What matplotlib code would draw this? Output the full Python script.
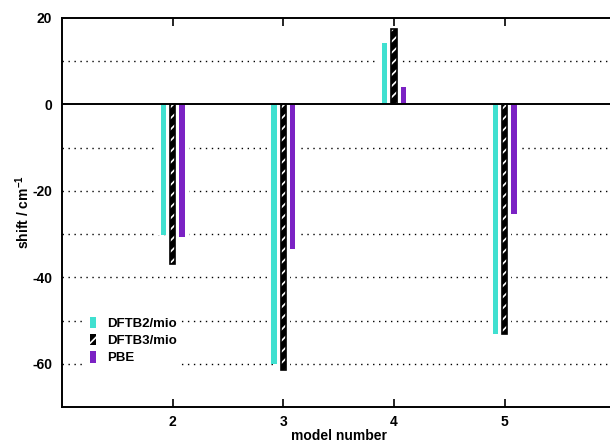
import matplotlib
matplotlib.use("Agg")
import matplotlib.pyplot as plt
from matplotlib.patches import Patch
import numpy as np

plt.rcParams['font.family'] = ['Liberation Sans', 'DejaVu Sans']
plt.rcParams['font.weight'] = 'bold'
plt.rcParams['mathtext.fontset'] = 'custom'
plt.rcParams['mathtext.rm'] = 'Liberation Sans:bold'
plt.rcParams['mathtext.bf'] = 'Liberation Sans:bold'
plt.rcParams['mathtext.default'] = 'rm'
plt.rcParams['hatch.linewidth'] = 1.2

models = [2, 3, 4, 5]
series_names = ["DFTB2/mio", "DFTB3/mio", "PBE"]
dftb2 = [-30.1, -60.1, 14.3, -53.2]
dftb3 = [-37.0, -61.5, 17.5, -53.0]
pbe = [-30.7, -33.5, 4.1, -25.3]
yticks = [20, 0, -20, -40, -60]

cyan = "#40e0d0"
purple = "#7b22c4"

fig = plt.figure(figsize=(6.10, 4.41), dpi=100)
ax = fig.add_axes([62/610, 34/441, 553.5/610, 389/441])
ax.set_xlim(1, 6)
ax.set_ylim(-70, 20)

x = np.array(models, dtype=float)
off = 0.084
w = 0.048
pad = 0.07

# grid
for yv in [10, -10, -20, -30, -40, -50, -60]:
    ax.axhline(yv, color='black', lw=1.0, linestyle=(0, (1, 3.3)), zorder=1)
ax.axhline(0, color='black', lw=1.4, zorder=4)

# white underlays to interrupt grid
for vals, dx in [(dftb2, -off), (dftb3, 0), (pbe, off)]:
    ax.bar(x + dx, vals, width=w + pad, color='white', lw=0, zorder=2)

ax.bar(x - off, dftb2, width=w, color=cyan, lw=0, zorder=3)
ax.bar(x, dftb3, width=w, facecolor='black', edgecolor='white', hatch='///', lw=0, zorder=3)
ax.bar(x, dftb3, width=w, fill=False, edgecolor='black', lw=1.2, zorder=3.5)
ax.bar(x + off, pbe, width=w, color=purple, lw=0, zorder=3)

for s in ax.spines.values():
    s.set_linewidth(1.4)

ax.set_xticks(models)
ax.set_xticklabels([str(m) for m in models], fontsize=10, fontweight='bold')
ax.tick_params(axis='x', direction='in', length=6, width=1.2, top=True, pad=6)
ax.set_yticks(yticks)
ax.set_yticklabels([str(v) for v in yticks], fontsize=10, fontweight='bold')
ax.tick_params(axis='y', direction='in', length=0, pad=7)

ax.set_xlabel("model number", fontsize=10, fontweight='bold', labelpad=0)
ax.set_ylabel(r"shift / cm$^{-1}$", fontsize=10, fontweight='bold', labelpad=0.5)

handles = [
    Patch(facecolor=cyan, lw=0),
    Patch(facecolor='black', edgecolor='white', hatch='///', lw=0),
    Patch(facecolor=purple, lw=0),
]
leg = ax.legend(handles, series_names, loc='upper left', bbox_to_anchor=(0.031, 0.259),
                frameon=True, fancybox=False, framealpha=1, edgecolor='none',
                handlelength=0.45, handleheight=0.95, handletextpad=0.9,
                labelspacing=0.3, borderpad=0.3, prop={'weight': 'bold', 'size': 9.5})
leg.set_zorder(5)

fig.savefig("out.png", dpi=100)
